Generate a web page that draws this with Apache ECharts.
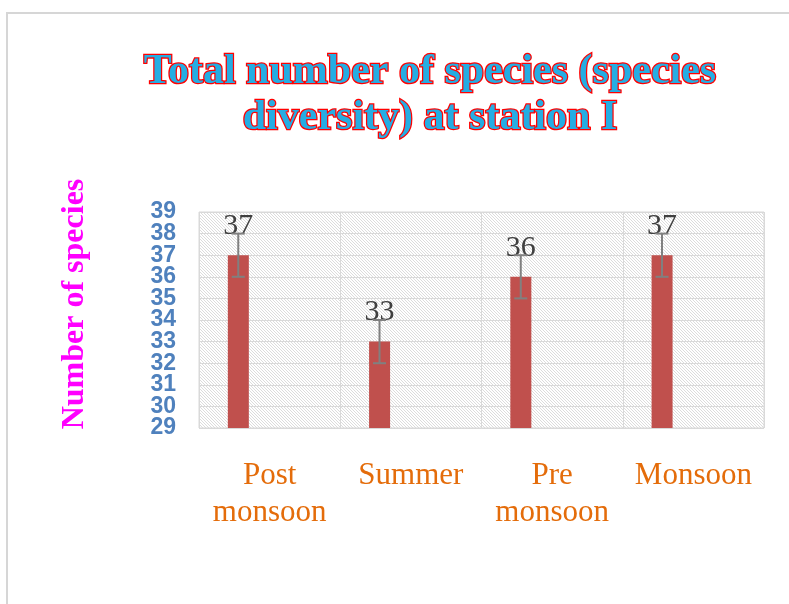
<!DOCTYPE html>
<html>
<head>
<meta charset="utf-8">
<script src="https://cdn.jsdelivr.net/npm/echarts@6/dist/echarts.min.js"></script>
<style>html,body{margin:0;padding:0;background:#fff;}#c{width:789px;height:604px;}</style>
</head>
<body>
<div id="c"></div>
<script>
var categories = ['Post\nmonsoon', 'Summer', 'Pre\nmonsoon', 'Monsoon'];
var species = [37, 33, 36, 37];
var errors = [1, 1, 1, 1];
var yTicks = { min: 29, max: 39, interval: 1 };

var pc = document.createElement('canvas');
pc.width = 6; pc.height = 6;
var g = pc.getContext('2d');
g.fillStyle = '#ffffff'; g.fillRect(0, 0, 6, 6);
g.strokeStyle = '#dcdcdc'; g.lineWidth = 1;
for (var k = -6; k <= 6; k += 3) {
  g.beginPath(); g.moveTo(k, 0); g.lineTo(k + 6, 6); g.stroke();
}

var yLabelStyle = { margin: 23, color: '#4f81bd', fontFamily: 'Liberation Sans', fontWeight: 'bold', fontSize: 23 };

var chart = echarts.init(document.getElementById('c'));
chart.setOption({
  animation: false,
  backgroundColor: '#ffffff',
  title: {
    text: 'Total number of species (species\ndiversity) at station I',
    left: 425, top: 44, textAlign: 'center',
    textStyle: {
      fontFamily: 'Liberation Serif', fontWeight: 'bold', fontSize: 42, lineHeight: 46,
      color: '#25ade3', textBorderColor: '#ff0000', textBorderWidth: 2.5
    }
  },
  graphic: [
    { type: 'rect', shape: { x: 7, y: 13, width: 800, height: 620 }, style: { fill: 'none', stroke: '#d6d6d6', lineWidth: 2 }, silent: true },
    { type: 'text', x: 75, y: 304, rotation: Math.PI / 2,
      style: { text: 'Number of species', fill: '#ff00ff', font: 'bold 32px "Liberation Serif"', align: 'center', verticalAlign: 'middle' } }
  ],
  grid: {
    left: 199, top: 212, right: 25, bottom: 176,
    show: true, borderColor: '#d9d9d9', borderWidth: 1,
    backgroundColor: { image: pc, repeat: 'repeat' }
  },
  xAxis: {
    type: 'category', data: categories,
    axisLine: { show: false }, axisTick: { show: false },
    splitLine: { show: true, lineStyle: { color: '#d9d9d9', width: 1 } },
    axisLabel: { margin: 29, color: '#e46c0a', fontFamily: 'Liberation Serif', fontSize: 31, lineHeight: 37, interval: 0 }
  },
  yAxis: [
    {
      type: 'value', min: yTicks.min, max: yTicks.max, interval: yTicks.interval,
      axisLine: { show: false }, axisTick: { show: false },
      splitLine: { show: true, lineStyle: { color: '#d9d9d9', width: 1 } },
      axisLabel: Object.assign({ showMinLabel: false, showMaxLabel: false }, yLabelStyle)
    },
    {
      type: 'value', position: 'left', min: yTicks.min, max: yTicks.max, interval: yTicks.interval,
      axisLine: { show: false }, axisTick: { show: false }, splitLine: { show: false },
      axisLabel: Object.assign({
        formatter: function (v) { return (v === yTicks.min || v === yTicks.max) ? String(v) : ''; }
      }, yLabelStyle)
    }
  ],
  series: [
    {
      type: 'bar', data: species, barWidth: 21, barGap: '198%',
      itemStyle: { color: '#c0504d' },
      label: { show: true, position: 'top', distance: 14, color: '#404040', fontFamily: 'Liberation Serif', fontSize: 30 },
      z: 2
    },
    { type: 'bar', data: [], barWidth: 21 },
    {
      type: 'custom', z: 3,
      data: species.map(function (v, i) { return [i, v, errors[i]]; }),
      renderItem: function (params, api) {
        var i = api.value(0), v = api.value(1), e = api.value(2);
        var cw = api.size([1, 0])[0];
        var hi = api.coord([i, v + e]);
        var lo = api.coord([i, v - e]);
        var x = hi[0] - cw * 0.222;
        var st = { stroke: '#808080', lineWidth: 2 };
        return {
          type: 'group', children: [
            { type: 'line', shape: { x1: x, y1: hi[1], x2: x, y2: lo[1] }, style: st },
            { type: 'line', shape: { x1: x - 6.5, y1: hi[1], x2: x + 6.5, y2: hi[1] }, style: st },
            { type: 'line', shape: { x1: x - 6.5, y1: lo[1], x2: x + 6.5, y2: lo[1] }, style: st }
          ]
        };
      }
    }
  ]
});
</script>
</body>
</html>
